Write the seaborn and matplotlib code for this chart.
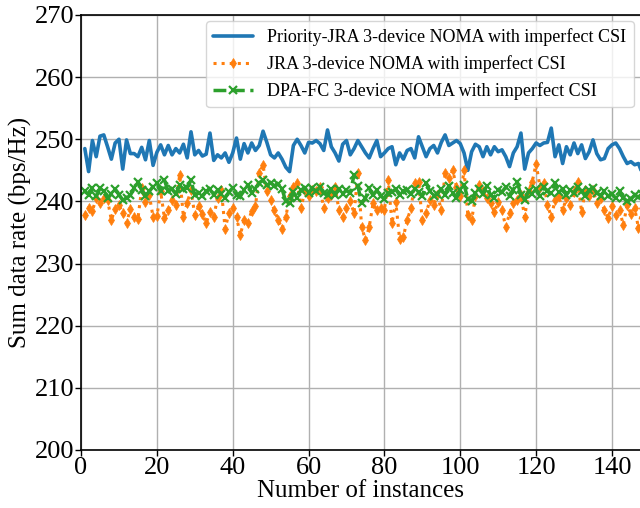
import numpy as np
import pandas as pd
import matplotlib
matplotlib.use("Agg")
import matplotlib.pyplot as plt
import seaborn as sns

instances = list(range(1, 149))

priority_jra = [
    248.5, 244.8, 249.8, 247.2, 250.5, 250.7, 248.8, 246.8, 249.4, 250.0,
    245.2, 249.9, 247.7, 247.7, 247.2, 248.7, 246.7, 249.8, 245.8, 247.9,
    249.1, 247.5, 249.0, 247.5, 248.5, 247.8, 249.2, 247.0, 251.2, 247.5,
    248.2, 247.3, 247.6, 251.0, 246.6, 247.5, 247.0, 247.8, 246.3, 247.8,
    250.2, 246.8, 249.3, 247.8, 249.4, 248.2, 249.0, 251.3, 249.5, 247.5,
    247.0, 247.8, 246.8, 245.5, 244.8, 249.0, 250.0, 249.0, 247.8, 249.5,
    249.4, 249.8, 249.3, 248.2, 251.5, 248.8, 247.8, 246.5, 249.2, 249.8,
    247.5, 248.5, 249.8, 248.8, 247.8, 247.0, 248.5, 249.8, 247.2, 247.8,
    248.5, 248.8, 245.9, 247.8, 246.8, 248.2, 248.5, 247.0, 250.4, 248.8,
    247.2, 248.5, 249.0, 247.8, 249.5, 250.7, 249.0, 249.4, 249.8, 249.3,
    247.8, 245.0, 248.0, 249.2, 248.8, 247.2, 248.8, 247.5, 248.8, 248.0,
    248.3, 247.2, 245.6, 247.8, 248.8, 251.0, 245.2, 247.8, 248.5, 249.4,
    249.0, 249.4, 249.5, 251.8, 247.2, 249.1, 246.1, 248.8, 247.5, 249.4,
    247.7, 249.1, 246.9, 248.0, 249.9, 247.7, 246.7, 246.9, 248.5, 249.1,
    249.4, 248.5, 247.2, 246.1, 246.4, 245.9, 246.1, 244.5,
]

jra = [
    237.8, 239.0, 238.5, 240.5, 239.8, 240.5, 240.2, 237.0, 238.8, 239.4,
    238.2, 236.5, 238.8, 237.5, 237.2, 242.1, 239.9, 241.0, 237.5, 237.6,
    241.6, 237.3, 238.6, 240.2, 239.5, 244.2, 237.5, 239.8, 241.8, 237.8,
    239.2, 238.0, 236.5, 238.3, 237.5, 240.6, 241.8, 235.6, 238.1, 239.0,
    237.5, 234.6, 237.0, 236.5, 238.5, 239.2, 244.5, 245.9, 241.6, 240.2,
    238.6, 237.0, 235.6, 237.5, 240.8, 242.4, 243.0, 238.9, 241.6, 240.8,
    241.9, 241.6, 242.4, 238.9, 240.5, 241.0, 242.4, 238.6, 237.5, 238.9,
    240.0, 238.1, 244.5, 235.9, 233.8, 235.9, 239.7, 238.6, 238.9, 238.6,
    243.4, 236.5, 239.9, 234.0, 234.3, 237.0, 238.9, 242.9, 243.1, 237.0,
    238.1, 240.2, 239.4, 241.0, 238.6, 244.5, 243.7, 245.0, 242.4, 240.8,
    245.0, 237.8, 237.0, 240.8, 242.6, 241.6, 240.5, 239.7, 238.3, 239.9,
    238.6, 235.9, 238.1, 239.7, 240.2, 241.0, 237.5, 241.6, 243.2, 246.1,
    242.4, 243.0, 239.5, 237.5, 240.2, 240.8, 238.6, 240.5, 239.4, 241.5,
    243.2, 238.3, 241.8, 240.8, 241.9, 239.7, 240.5, 238.6, 237.3, 239.2,
    237.8, 238.6, 236.2, 239.4, 238.0, 238.9, 235.7, 239.0,
]

dpa_fc = [
    241.6, 241.1, 242.1, 240.8, 242.1, 241.6, 240.5, 241.2, 242.0, 241.1,
    240.2, 240.5, 241.0, 242.1, 243.2, 241.8, 240.8, 241.6, 242.4, 242.9,
    241.6, 243.4, 241.6, 242.0, 241.2, 242.6, 242.0, 242.2, 243.4, 241.0,
    241.4, 240.8, 241.6, 242.0, 241.0, 241.8, 241.2, 240.6, 241.5, 242.2,
    241.0, 240.8, 241.8, 242.6, 241.4, 242.0, 243.0, 243.4, 242.6, 243.0,
    242.5, 242.8, 242.0, 240.0, 239.7, 241.5, 240.6, 241.8, 242.2, 241.4,
    242.1, 241.6, 242.3, 241.3, 241.0, 242.0, 241.1, 242.0, 241.2, 241.8,
    241.3, 244.3, 242.5, 239.7, 240.5, 242.1, 241.0, 241.8, 240.9, 240.4,
    241.4, 241.5, 242.0, 241.0, 241.6, 241.8, 241.2, 242.0, 241.5, 240.8,
    243.0, 241.6, 240.9, 241.2, 242.0, 241.0, 242.5, 241.4, 240.6, 241.8,
    242.7, 240.4, 240.0, 241.3, 242.0, 241.2, 242.5, 241.0, 240.6, 241.8,
    241.5, 242.3, 240.8, 241.9, 243.2, 241.0, 240.3, 241.6, 241.2, 242.0,
    240.8, 242.3, 241.6, 241.3, 243.0, 241.5, 242.0, 241.1, 241.8, 241.3,
    242.3, 241.6, 240.8, 241.8, 242.2, 241.4, 240.9, 241.6, 240.8, 241.2,
    240.5, 241.6, 240.6, 240.0, 240.4, 241.0, 240.7, 241.2,
]

labels = [
    "Priority-JRA 3-device NOMA with imperfect CSI",
    "JRA 3-device NOMA with imperfect CSI",
    "DPA-FC 3-device NOMA with imperfect CSI",
]

x_ticks = [0, 20, 40, 60, 80, 100, 120, 140]
y_ticks = [200, 210, 220, 230, 240, 250, 260, 270]

sns.set_style("whitegrid")
plt.rcParams["font.family"] = ["Liberation Serif", "DejaVu Serif"]
plt.rcParams["mathtext.fontset"] = "stix"
for k in ["text.color", "axes.labelcolor", "xtick.color", "ytick.color"]:
    plt.rcParams[k] = "black"

fig = plt.figure(figsize=(6.4, 5.08), dpi=100)
ax = fig.add_axes([0.1266, 0.1142, 0.8734, 0.8563])

df1 = pd.DataFrame({"x": instances, "y": priority_jra})
df2 = pd.DataFrame({"x": instances, "y": jra})
df3 = pd.DataFrame({"x": instances, "y": dpa_fc})

c_blue, c_orange, c_green = "#1f77b4", "#ff7f0e", "#2ca02c"

sns.lineplot(data=df1, x="x", y="y", ax=ax, color=c_blue, linewidth=2.6,
             label=labels[0])
sns.lineplot(data=df2, x="x", y="y", ax=ax, color=c_orange, linewidth=2.2,
             linestyle=":", marker="d", markersize=5.5, markeredgewidth=0.5,
             markeredgecolor=c_orange, label=labels[1])
sns.lineplot(data=df3, x="x", y="y", ax=ax, color=c_green, linewidth=2.5,
             linestyle="--", marker="x", markersize=5.5, markeredgewidth=1.6,
             markeredgecolor=c_green, label=labels[2])

ax.set_xlim(0, 147.4)
ax.set_ylim(200, 270)
ax.set_xticks(x_ticks)
ax.set_yticks(y_ticks)
ax.set_xlabel("Number of instances", fontsize=18, labelpad=1)
ax.set_ylabel("Sum data rate (bps/Hz)", fontsize=18, labelpad=2)
ax.tick_params(axis="both", labelsize=19, direction="out", length=4,
               width=1, color="black", left=True, bottom=True, pad=1)
ax.grid(True, color="#b0b0b0", linewidth=1)
for side in ["left", "bottom", "top"]:
    ax.spines[side].set_color("black")
    ax.spines[side].set_linewidth(1.2)
ax.spines["right"].set_visible(False)

leg = ax.legend(loc="upper right", fontsize=13, frameon=True,
                borderaxespad=0.35, handlelength=2.2, labelspacing=0.5)
leg.get_frame().set_edgecolor("#cccccc")

fig.savefig("out.png", dpi=100)
